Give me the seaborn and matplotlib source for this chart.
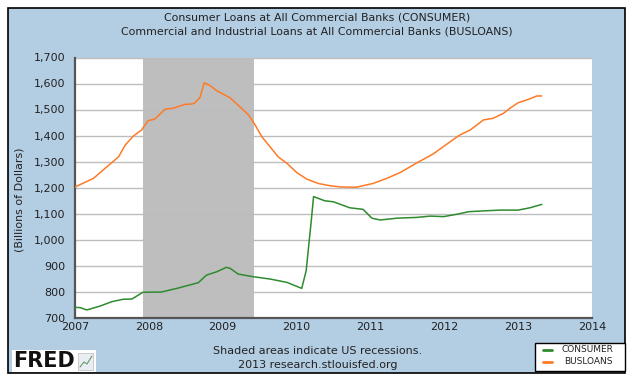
import matplotlib
matplotlib.use("Agg")
import matplotlib.pyplot as plt
import matplotlib.ticker as mticker
from matplotlib.patches import Rectangle
from matplotlib.lines import Line2D
import seaborn as sns
import pandas as pd

# ---- data ----
busloans_t = [2007.0, 2007.25, 2007.38, 2007.59, 2007.68, 2007.79, 2007.90, 2007.99,
              2008.08, 2008.22, 2008.33, 2008.49, 2008.58, 2008.62, 2008.69, 2008.75,
              2008.83, 2008.92, 2009.10, 2009.23, 2009.35, 2009.44, 2009.53, 2009.64,
              2009.75, 2009.87, 2010.00, 2010.14, 2010.30, 2010.45, 2010.60, 2010.81,
              2011.04, 2011.22, 2011.40, 2011.63, 2011.85, 2012.06, 2012.21, 2012.35,
              2012.53, 2012.66, 2012.80, 2012.89, 2013.00, 2013.14, 2013.25, 2013.32]
busloans = [1202, 1235, 1267, 1318, 1363, 1398, 1421, 1457,
            1463, 1501, 1505, 1520, 1521, 1525, 1545, 1603,
            1592, 1572, 1545, 1511, 1479, 1440, 1395, 1357,
            1318, 1293, 1258, 1232, 1215, 1207, 1202, 1201,
            1216, 1235, 1257, 1295, 1329, 1372, 1402, 1421,
            1460, 1466, 1485, 1505, 1526, 1539, 1552, 1552]

consumer_t = [2007.0, 2007.07, 2007.16, 2007.34, 2007.50, 2007.65, 2007.77, 2007.92,
              2008.17, 2008.38, 2008.67, 2008.78, 2008.92, 2009.05, 2009.10, 2009.21,
              2009.41, 2009.64, 2009.87, 2010.07, 2010.13, 2010.20, 2010.23, 2010.38,
              2010.50, 2010.72, 2010.90, 2011.02, 2011.13, 2011.36, 2011.63, 2011.81,
              2011.99, 2012.17, 2012.33, 2012.53, 2012.75, 2013.00, 2013.16, 2013.32]
consumer = [739, 738, 729, 744, 761, 770, 771, 797,
            798, 812, 834, 863, 876, 893, 889, 867,
            857, 848, 835, 812, 880, 1075, 1165, 1149,
            1145, 1122, 1116, 1082, 1075, 1082, 1085, 1090,
            1088, 1097, 1107, 1110, 1113, 1113, 1122, 1135]

recession_start, recession_end = 2007.917, 2009.417
x_ticks = [2007, 2008, 2009, 2010, 2011, 2012, 2013, 2014]
y_ticks = list(range(700, 1701, 100))

title1 = "Consumer Loans at All Commercial Banks (CONSUMER)"
title2 = "Commercial and Industrial Loans at All Commercial Banks (BUSLOANS)"
ylabel = "(Billions of Dollars)"
note1 = "Shaded areas indicate US recessions."
note2 = "2013 research.stlouisfed.org"

GREEN = "#2E8B2E"
ORANGE = "#FF7A26"
BLUE_BG = "#B3CDE3"

sns.set_style("white")
plt.rcParams['font.family'] = ['DejaVu Sans']

W, H = 636, 390
fig = plt.figure(figsize=(W / 100, H / 100), dpi=100)
fig.patch.set_facecolor("white")

# outer blue frame
frame = Rectangle((8 / W, 1 - 373 / H), (625 - 8) / W, (373 - 8) / H,
                  transform=fig.transFigure, facecolor=BLUE_BG,
                  edgecolor="black", linewidth=1.2, zorder=-10)
fig.patches.append(frame)

L, R, T, B = 75, 592, 57.5, 317.5
ax = fig.add_axes([L / W, 1 - B / H, (R - L) / W, (B - T) / H])
ax.set_zorder(5)
ax.set_facecolor("white")

# recession shading
ax.axvspan(recession_start, recession_end, color="#BEBEBE", lw=0, zorder=1)

# gridlines
for yv in y_ticks[1:]:
    ax.axhline(yv, color="#BDBDBD", lw=1.0, zorder=2)

df_b = pd.DataFrame({"date": busloans_t, "value": busloans})
df_c = pd.DataFrame({"date": consumer_t, "value": consumer})
sns.lineplot(data=df_b, x="date", y="value", ax=ax, color=ORANGE, lw=1.1, zorder=3)
sns.lineplot(data=df_c, x="date", y="value", ax=ax, color=GREEN, lw=1.1, zorder=3)

ax.set_xlim(2007, 2014)
ax.set_ylim(700, 1700)
ax.set_xticks(x_ticks)
ax.set_xticklabels([str(v) for v in x_ticks])
ax.set_yticks(y_ticks)
ax.yaxis.set_major_formatter(mticker.FuncFormatter(lambda v, p: f"{int(v):,}"))
ax.set_xlabel("")
ax.set_ylabel("")

for s in ["top", "right"]:
    ax.spines[s].set_visible(False)
for s in ["left", "bottom"]:
    ax.spines[s].set_color("#555555")
    ax.spines[s].set_linewidth(1.6)

ax.tick_params(axis="y", direction="out", length=5, width=1, color="#444444",
               labelsize=8, labelcolor="#222222", pad=2)
ax.tick_params(axis="x", direction="in", length=5, width=1, color="#222222",
               labelsize=8, labelcolor="#222222", pad=3)

# titles
fig.text(317 / W, 1 - 18 / H, title1, ha="center", va="center", fontsize=7.9, color="#222222")
fig.text(317 / W, 1 - 31 / H, title2, ha="center", va="center", fontsize=7.9, color="#222222")
fig.text(20 / W, 1 - 200 / H, ylabel, ha="center", va="center", rotation=90,
         fontsize=7.9, color="#222222")

# notes
fig.text(318 / W, 1 - 351 / H, note1, ha="center", va="center", fontsize=8, color="#222222")
fig.text(318 / W, 1 - 365 / H, note2, ha="center", va="center", fontsize=8, color="#222222")

# FRED logo
logo = Rectangle((12 / W, 1 - 372 / H), 84 / W, 22 / H, transform=fig.transFigure,
                 facecolor="white", edgecolor="none", zorder=1)
fig.patches.append(logo)
fig.text(13 / W, 1 - 361 / H, "FRED", ha="left", va="center", fontsize=15,
         fontweight="heavy", color="#111111")
icon = Rectangle((78 / W, 1 - 370 / H), 15 / W, 17 / H, transform=fig.transFigure,
                 facecolor="#E8EEF3", edgecolor="#BBBBBB", lw=0.5, zorder=1)
fig.patches.append(icon)
fig.lines.append(Line2D([80 / W, 84 / W, 87 / W, 92 / W],
                        [1 - 367 / H, 1 - 362 / H, 1 - 364 / H, 1 - 356 / H],
                        transform=fig.transFigure, color="#6A9A6A", lw=0.8))

# legend box
leg = Rectangle((535 / W, 1 - 371 / H), (625 - 535) / W, 28 / H, transform=fig.transFigure,
                facecolor="white", edgecolor="black", lw=1, zorder=1)
fig.patches.append(leg)
fig.lines.append(Line2D([543 / W, 552 / W], [1 - 350 / H] * 2, transform=fig.transFigure,
                        color=GREEN, lw=2))
fig.lines.append(Line2D([543 / W, 552 / W], [1 - 362 / H] * 2, transform=fig.transFigure,
                        color=ORANGE, lw=2))
fig.text(562 / W, 1 - 350 / H, "CONSUMER", ha="left", va="center", fontsize=6.5, color="#222222")
fig.text(564 / W, 1 - 362 / H, "BUSLOANS", ha="left", va="center", fontsize=6.5, color="#222222")

fig.savefig("out.png", dpi=100)
